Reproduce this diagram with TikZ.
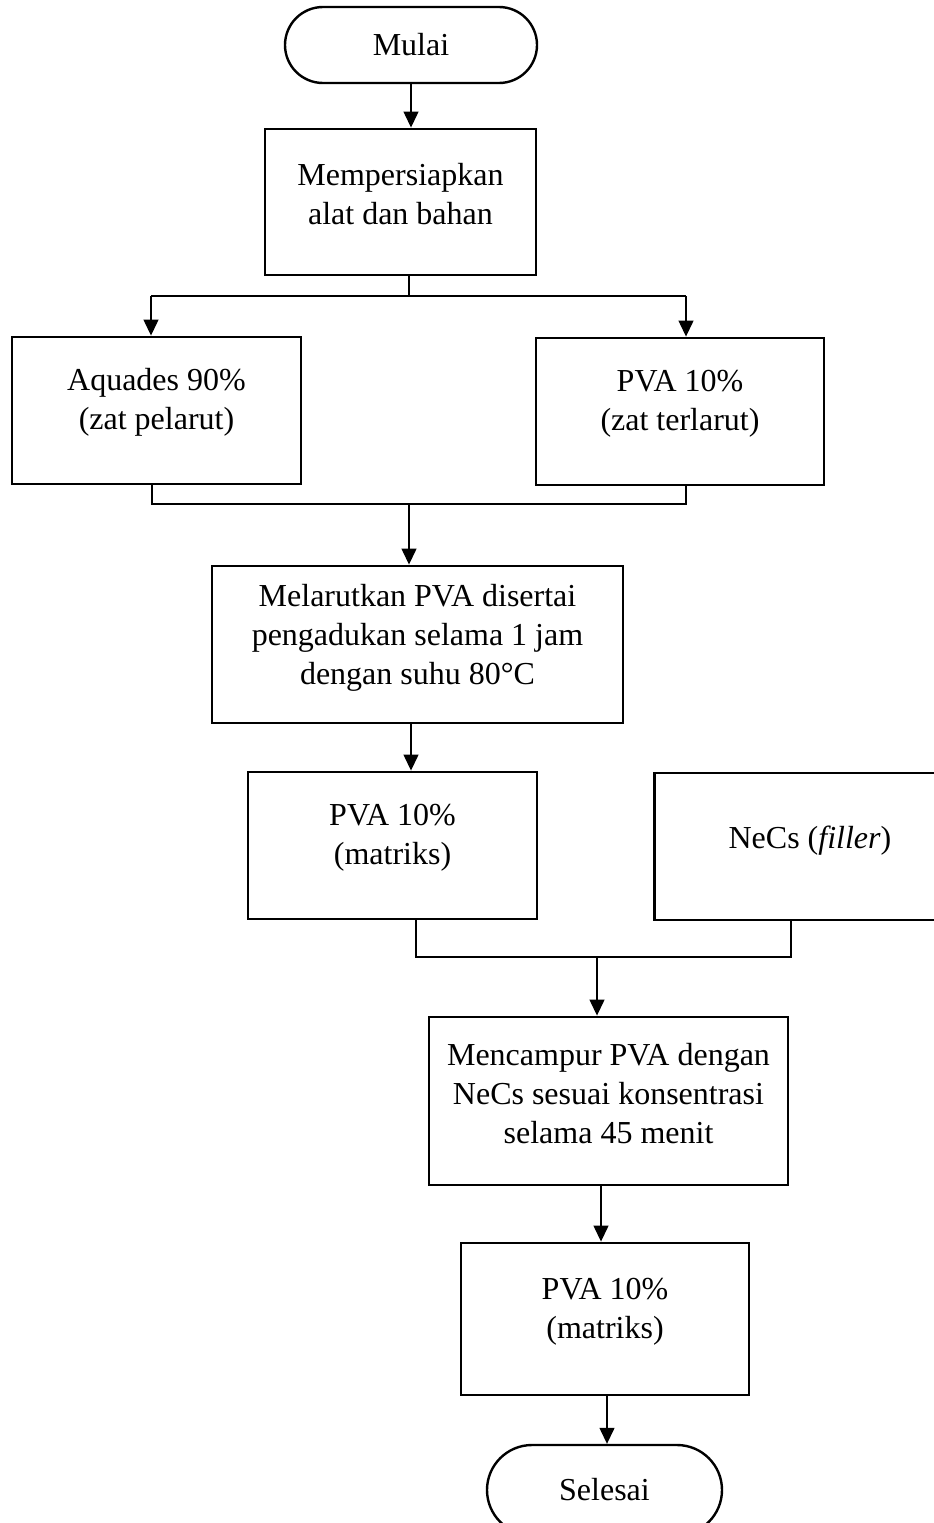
\documentclass[tikz,border=0pt]{standalone}
\usepackage{fontspec}
\setmainfont{Liberation Serif}
\usetikzlibrary{arrows.meta,shapes.misc,calc}
\begin{document}
\begin{tikzpicture}[x=1pt,y=-1pt,
  box/.style={draw,line width=2.9pt,inner sep=0pt,minimum width=#1},
  term/.style={draw,line width=2.4pt,rounded rectangle,inner sep=0pt,font=\fontsize{32}{39}\selectfont},
  txt/.style={align=center,inner sep=0pt,font=\fontsize{32}{39}\selectfont,yshift=8pt},
  ln/.style={line width=1.3pt},
  arr/.style={line width=1.3pt,-{Triangle[width=15pt,length=16pt]}}]
\useasboundingbox (0,0) rectangle (934,1523);
% terminals
\node[term,minimum width=252pt,minimum height=76pt] (mulai) at (411,45) {Mulai};
\node[term,minimum width=235pt,minimum height=90pt] (selesai) at (604.5,1490) {Selesai};
% boxes
\node[box=271pt,minimum height=146pt] (b1) at (400.5,202) {};
\node[txt] (t1) at (b1.center) {Mempersiapkan\\alat dan bahan};
\node[box=289pt,minimum height=147pt] (aq) at (156.5,410.5) {};
\node[txt] (t2) at (aq.center) {Aquades 90\%\\(zat pelarut)};
\node[box=288pt,minimum height=147pt] (pz) at (680,411.5) {};
\node[txt] (t3) at (pz.center) {PVA 10\%\\(zat terlarut)};
\node[box=411pt,minimum height=157pt] (mel) at (417.5,644.5) {};
\node[txt,yshift=-1pt] (t4) at (mel.center) {Melarutkan PVA disertai\\pengadukan selama 1 jam\\dengan suhu 80°C};
\node[box=289pt,minimum height=147pt] (pm) at (392.5,845.5) {};
\node[txt] (t5) at (pm.center) {PVA 10\%\\(matriks)};
\node[box=311pt,minimum height=147pt] (ne) at (810,846.5) {};
\node[txt,yshift=-2pt] (t6) at (ne.center) {NeCs (\textit{filler})};
\node[box=359pt,minimum height=168pt] (mix) at (608.5,1101) {};
\node[txt,yshift=-1pt] (t7) at (mix.center) {Mencampur PVA dengan\\NeCs sesuai konsentrasi\\selama 45 menit};
\node[box=288pt,minimum height=152pt] (pm2) at (605,1319) {};
\node[txt,yshift=-1pt] (t8) at (pm2.center) {PVA 10\%\\(matriks)};
% connectors
\draw[arr] (mulai.south) -- (mulai.south |- b1.north);
\coordinate (j1) at (409,296);
\coordinate (l1) at (151,296);
\coordinate (r1) at (686,296);
\draw[ln] (b1.south -| j1) -- (j1);
\draw[ln] (l1) -- (r1);
\draw[arr] (l1) -- (l1 |- aq.north);
\draw[arr] (r1) -- (r1 |- pz.north);
\coordinate (l2) at (152,504);
\coordinate (r2) at (686,504);
\coordinate (j2) at (409,504);
\draw[ln] (aq.south -| l2) -- (l2) -- (r2) -- (pz.south -| r2);
\draw[arr] (j2) -- (j2 |- mel.north);
\coordinate (j3) at (411,723);
\draw[arr] (mel.south -| j3) -- (j3 |- pm.north);
\coordinate (l3) at (416,957);
\coordinate (r3) at (791,957);
\coordinate (j4) at (597,957);
\draw[ln] (pm.south -| l3) -- (l3) -- (r3) -- (ne.south -| r3);
\draw[arr] (j4) -- (j4 |- mix.north);
\coordinate (j5) at (601,1185);
\draw[arr] (mix.south -| j5) -- (j5 |- pm2.north);
\coordinate (j6) at (607,1395);
\draw[arr] (pm2.south -| j6) -- (j6 |- selesai.north);
\end{tikzpicture}
\end{document}
